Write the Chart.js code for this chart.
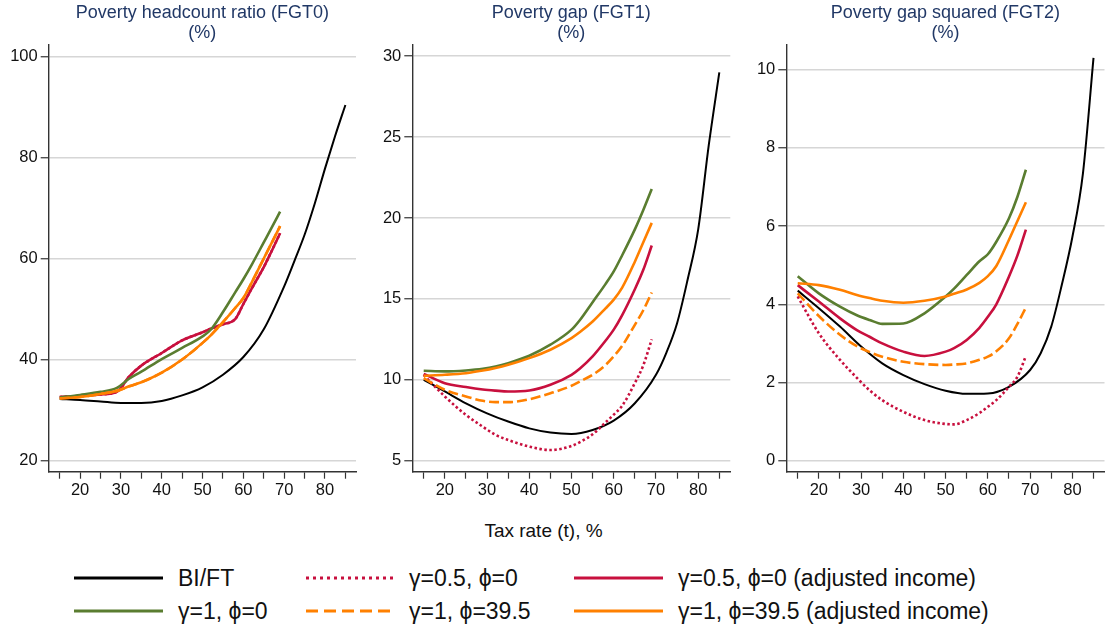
<!DOCTYPE html>
<html>
<head>
<meta charset="utf-8">
<script src="https://cdn.jsdelivr.net/npm/chart.js@4.4.1/dist/chart.umd.min.js"></script>
<style>
html,body{margin:0;padding:0;background:#fff;}
#wrap{position:relative;width:1105px;height:628px;overflow:hidden;font-family:"Liberation Sans",Arial,sans-serif;background:#fff;}
#wrap canvas{position:absolute;top:0;}
#xtitle{position:absolute;left:0;width:1087px;top:520px;line-height:22px;text-align:center;font-size:19px;color:#111;}
.lg-line{position:absolute;}
.lg-text{position:absolute;font-size:23px;line-height:26px;color:#111;white-space:nowrap;}
</style>
</head>
<body>
<div id="wrap">
  <canvas id="c1" width="368" height="510" style="left:0px;width:368px;height:510px"></canvas>
  <canvas id="c2" width="368" height="510" style="left:368px;width:368px;height:510px"></canvas>
  <canvas id="c3" width="369" height="510" style="left:736px;width:369px;height:510px"></canvas>
  <div id="xtitle">Tax rate (t), %</div>
  <div id="legend"></div>
</div>
<script>
// ---------- data ----------
const taxRateBI  = [15, 20, 25, 30, 35, 40, 45, 50, 55, 60, 65, 70, 72.5, 75, 77.5, 80, 82.5, 85];
const taxRateAlt = [15, 20, 25, 29, 32, 35, 40, 45, 50, 52, 55, 58, 60, 62, 65, 67, 69];

const xTicks      = [15, 20, 25, 30, 35, 40, 45, 50, 55, 60, 65, 70, 75, 80, 85];
const xTickLabels = [20, 30, 40, 50, 60, 70, 80];

const panelTitles = ["Poverty headcount ratio (FGT0)", "Poverty gap (FGT1)", "Poverty gap squared (FGT2)"];
const fgt0Ticks = [20, 40, 60, 80, 100];
const fgt1Ticks = [5, 10, 15, 20, 25, 30];
const fgt2Ticks = [0, 2, 4, 6, 8, 10];

const seriesNames = ["BI/FT", "γ=0.5, ϕ=0", "γ=0.5, ϕ=0 (adjusted income)", "γ=1, ϕ=0", "γ=1, ϕ=39.5", "γ=1, ϕ=39.5 (adjusted income)"];

// FGT0 (headcount ratio, %)
const fgt0_bift      = [32.2, 32.0, 31.7, 31.4, 31.4, 31.8, 32.9, 34.5, 37.0, 40.5, 46.0, 54.5, 59.5, 64.7, 70.9, 77.8, 84.3, 90.4];
const fgt0_g05       = [32.6, 32.8, 33.1, 33.6, 36.6, 38.8, 41.3, 43.8, 45.4, 46.1, 47.0, 48.0, 51.0, 54.0, 58.3, 61.6, 65.0];
const fgt0_g05adj    = [32.6, 32.8, 33.1, 33.6, 36.6, 38.8, 41.3, 43.8, 45.4, 46.1, 47.0, 48.0, 51.0, 54.0, 58.3, 61.6, 65.0];
const fgt0_g1        = [32.5, 33.0, 33.6, 34.4, 36.2, 37.6, 40.1, 42.3, 44.6, 45.9, 49.4, 53.3, 55.9, 58.7, 63.2, 66.2, 69.3];
const fgt0_g1p395    = [32.3, 32.6, 33.2, 33.8, 34.7, 35.5, 37.4, 40.0, 43.3, 44.8, 47.4, 50.2, 52.2, 55.2, 60.0, 63.2, 66.4];
const fgt0_g1p395adj = [32.3, 32.6, 33.2, 33.8, 34.7, 35.5, 37.4, 40.0, 43.3, 44.8, 47.4, 50.2, 52.2, 55.2, 60.0, 63.2, 66.4];

// FGT1 (poverty gap, %)
const fgt1_bift      = [10.0, 9.28, 8.55, 7.93, 7.42, 7.0, 6.74, 6.65, 6.9, 7.48, 8.55, 10.31, 11.7, 13.5, 16.2, 19.3, 24.5, 29.0];
const fgt1_g05       = [10.3, 8.97, 7.83, 7.1, 6.6, 6.28, 5.87, 5.66, 5.91, 6.15, 6.63, 7.35, 7.85, 8.4, 9.8, 10.9, 12.5];
const fgt1_g05adj    = [10.37, 9.79, 9.55, 9.4, 9.33, 9.28, 9.34, 9.69, 10.31, 10.7, 11.45, 12.4, 13.1, 14.0, 15.6, 16.8, 18.3];
const fgt1_g1        = [10.56, 10.52, 10.58, 10.68, 10.82, 11.03, 11.49, 12.17, 13.1, 13.7, 14.8, 15.9, 16.7, 17.7, 19.3, 20.5, 21.8];
const fgt1_g1p395    = [10.1, 9.38, 8.97, 8.7, 8.62, 8.62, 8.8, 9.17, 9.63, 9.9, 10.31, 10.9, 11.45, 12.1, 13.4, 14.3, 15.4];
const fgt1_g1p395adj = [10.25, 10.31, 10.41, 10.57, 10.73, 10.93, 11.34, 11.86, 12.58, 12.95, 13.6, 14.4, 14.96, 15.7, 17.3, 18.5, 19.7];

// FGT2 (poverty gap squared, %)
const fgt2_bift      = [4.35, 3.9, 3.43, 2.92, 2.49, 2.19, 1.96, 1.79, 1.71, 1.72, 1.89, 2.32, 2.75, 3.43, 4.5, 5.72, 7.35, 10.3];
const fgt2_g05       = [4.2, 3.26, 2.58, 2.12, 1.8, 1.55, 1.25, 1.04, 0.94, 0.93, 1.04, 1.22, 1.38, 1.55, 1.89, 2.15, 2.68];
const fgt2_g05adj    = [4.49, 4.07, 3.64, 3.34, 3.17, 3.0, 2.79, 2.68, 2.79, 2.88, 3.09, 3.4, 3.68, 4.0, 4.71, 5.25, 5.91];
const fgt2_g1        = [4.72, 4.28, 3.94, 3.72, 3.6, 3.5, 3.51, 3.77, 4.2, 4.4, 4.75, 5.1, 5.28, 5.6, 6.2, 6.75, 7.44];
const fgt2_g1p395    = [4.28, 3.7, 3.22, 2.93, 2.78, 2.66, 2.53, 2.47, 2.45, 2.46, 2.49, 2.58, 2.66, 2.8, 3.13, 3.5, 3.92];
const fgt2_g1p395adj = [4.54, 4.49, 4.37, 4.24, 4.16, 4.09, 4.04, 4.09, 4.2, 4.27, 4.38, 4.55, 4.72, 4.98, 5.65, 6.13, 6.61];

// ---------- styling ----------
const FONT = "'Liberation Sans', Arial, sans-serif";
const seriesStyle = [
  {color: '#000000', width: 2.0, dash: []},
  {color: '#c8103e', width: 2.6, dash: [2.5, 2.5]},
  {color: '#c8103e', width: 2.6, dash: []},
  {color: '#5a7d30', width: 2.6, dash: []},
  {color: '#ff8000', width: 2.6, dash: [10, 4]},
  {color: '#ff8000', width: 2.6, dash: []}
];

function pts(xs, ys) { return xs.map((x, i) => ({x: x, y: ys[i]})); }

function makePanel(id, title, series, yTicks, yMin, yMax, yAxisWidth, padRight) {
  const datasets = series.map((ys, i) => ({
    label: seriesNames[i],
    data: pts(i === 0 ? taxRateBI : taxRateAlt, ys),
    borderColor: seriesStyle[i].color,
    borderWidth: seriesStyle[i].width,
    borderDash: seriesStyle[i].dash,
    pointRadius: 0,
    fill: false,
    cubicInterpolationMode: 'monotone',
    order: 10 - i
  }));
  return new Chart(document.getElementById(id), {
    type: 'line',
    data: {datasets: datasets},
    options: {
      responsive: false,
      animation: false,
      events: [],
      layout: {padding: {left: 0, right: padRight, top: 0, bottom: 0}},
      plugins: {
        legend: {display: false},
        tooltip: {enabled: false},
        title: {
          display: true, text: [title, '(%)'], fullSize: false, color: '#213866',
          font: {family: FONT, size: 18, weight: 'normal', lineHeight: 1.1},
          padding: {top: 3, bottom: 2}
        }
      },
      scales: {
        x: {
          type: 'linear', min: 12.3, max: 87.6,
          afterBuildTicks: s => { s.ticks = xTicks.map(v => ({value: v})); },
          afterFit: s => { s.height = 38.3; },
          grid: {drawOnChartArea: false, drawTicks: true, tickLength: 7, tickColor: '#333', tickWidth: 1.2},
          border: {display: true, color: '#333', width: 1.4},
          ticks: {autoSkip: false, maxRotation: 0, padding: 2, color: '#111',
                  font: {family: FONT, size: 16.5},
                  callback: v => xTickLabels.includes(v) ? String(v) : ''}
        },
        y: {
          type: 'linear', min: yMin, max: yMax,
          afterBuildTicks: s => { s.ticks = yTicks.map(v => ({value: v})); },
          afterFit: s => { s.width = yAxisWidth; },
          grid: {color: '#d6d6d6', lineWidth: 1.5, drawTicks: true, tickLength: 8, tickColor: '#333', tickWidth: 1.2},
          border: {display: true, color: '#333', width: 1.4},
          ticks: {padding: 3, color: '#111', font: {family: FONT, size: 16.5},
                  callback: v => String(v)}
        }
      }
    }
  });
}

makePanel('c1', panelTitles[0], [fgt0_bift, fgt0_g05, fgt0_g05adj, fgt0_g1, fgt0_g1p395, fgt0_g1p395adj], fgt0Ticks, 17.8, 102.35, 48.7, 12);
makePanel('c2', panelTitles[1], [fgt1_bift, fgt1_g05, fgt1_g05adj, fgt1_g1, fgt1_g1p395, fgt1_g1p395adj], fgt1Ticks, 4.32, 30.72, 44.3, 5.7);
makePanel('c3', panelTitles[2], [fgt2_bift, fgt2_g05, fgt2_g05adj, fgt2_g1, fgt2_g1p395, fgt2_g1p395adj], fgt2Ticks, -0.28, 10.64, 50.3, 0.5);

// ---------- legend (HTML) ----------
const legendRows = [577.8, 611.0];
const legendCols = [{x1: 74, x2: 163, tx: 178}, {x1: 306, x2: 393, tx: 409}, {x1: 574, x2: 663, tx: 678}];
const lg = document.getElementById('legend');
seriesNames.forEach((name, i) => {
  const row = Math.floor(i / 3), col = i % 3;
  const cy = legendRows[row], c = legendCols[col], st = seriesStyle[i];
  const w = c.x2 - c.x1;
  const svgNS = 'http://www.w3.org/2000/svg';
  const svg = document.createElementNS(svgNS, 'svg');
  svg.setAttribute('class', 'lg-line');
  svg.setAttribute('width', w); svg.setAttribute('height', 10);
  svg.style.left = c.x1 + 'px'; svg.style.top = (cy - 5) + 'px';
  const ln = document.createElementNS(svgNS, 'line');
  ln.setAttribute('x1', 0); ln.setAttribute('x2', w); ln.setAttribute('y1', 5); ln.setAttribute('y2', 5);
  ln.setAttribute('stroke', st.color);
  ln.setAttribute('stroke-width', 3);
  if (i === 1) ln.setAttribute('stroke-dasharray', '3 4');
  if (i === 4) ln.setAttribute('stroke-dasharray', '12 6');
  svg.appendChild(ln);
  lg.appendChild(svg);
  const t = document.createElement('div');
  t.className = 'lg-text';
  t.textContent = name;
  t.style.left = c.tx + 'px';
  t.style.top = (cy - 13) + 'px';
  lg.appendChild(t);
});
</script>
</body>
</html>
